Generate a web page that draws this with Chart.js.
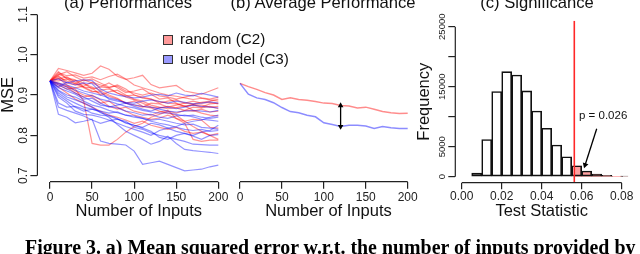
<!DOCTYPE html>
<html>
<head>
<meta charset="utf-8">
<script src="https://cdn.jsdelivr.net/npm/chart.js@4.4.1/dist/chart.umd.min.js"></script>
<style>
  html, body { margin: 0; padding: 0; background: #fff; }
  body { width: 640px; height: 254px; position: relative; overflow: hidden;
         font-family: 'Liberation Sans', Arial, Helvetica, sans-serif; color: #111; }
  canvas { position: absolute; left: 0; top: 0; }
  .ttl { position: absolute; top: -5px; width: 240px; text-align: center;
         font-size: 16.6px; line-height: 1; white-space: nowrap; }
  .key { position: absolute; left: 163px; width: 8px; height: 7.5px; border: 1px solid #333; }
  .keytxt { position: absolute; left: 180px; font-size: 15.2px; line-height: 1; white-space: nowrap; }
  .note { position: absolute; left: 579px; top: 110px; font-size: 11.5px; line-height: 1; white-space: nowrap; }
  .caption { position: absolute; left: 25px; top: 238px; white-space: nowrap;
             font: bold 19.9px/1 'Liberation Serif', 'Times New Roman', serif; color: #000; }
</style>
</head>
<body>
<canvas id="chartA" width="640" height="254"></canvas>
<canvas id="chartB" width="640" height="254"></canvas>
<canvas id="chartC" width="640" height="254"></canvas>

<div class="ttl" style="left:8px">(a) Performances</div>
<div class="ttl" style="left:203px">(b) Average Performance</div>
<div class="ttl" style="left:417px">(c) Significance</div>

<div class="key" style="top:35px; background:#ff9a9a"></div>
<div class="keytxt" style="top:31.3px">random (C2)</div>
<div class="key" style="top:54.5px; background:#9a9aff"></div>
<div class="keytxt" style="top:50.6px">user model (C3)</div>

<div class="note">p = 0.026</div>
<div class="caption">Figure 3. a) Mean squared error w.r.t. the number of inputs provided by</div>

<script>
// ---------- data ----------
const inputs = [0, 10, 20, 30, 40, 50, 60, 70, 80, 90, 100, 110, 120, 130, 140, 150, 160, 170, 180, 190, 200];
const inputTicks = [0, 50, 100, 150, 200];
const mseTicks = [0.7, 0.8, 0.9, 1.0, 1.1];

// (a) one line per run, random inputs (C2)
const randomRuns = [
  [0.935,0.966,0.961,0.955,0.949,0.954,0.972,0.964,0.947,0.939,0.943,0.949,0.926,0.918,0.921,0.924,0.910,0.906,0.902,0.910,0.918],
  [0.935,0.930,0.922,0.915,0.885,0.780,0.776,0.776,0.790,0.808,0.822,0.830,0.845,0.852,0.860,0.855,0.862,0.870,0.868,0.872,0.866],
  [0.935,0.955,0.948,0.950,0.942,0.945,0.938,0.946,0.952,0.940,0.925,0.918,0.912,0.905,0.900,0.897,0.893,0.889,0.892,0.888,0.885],
  [0.935,0.948,0.930,0.925,0.928,0.920,0.912,0.915,0.905,0.898,0.900,0.892,0.890,0.884,0.880,0.878,0.872,0.876,0.870,0.878,0.880],
  [0.935,0.940,0.945,0.932,0.920,0.910,0.905,0.897,0.890,0.880,0.885,0.872,0.868,0.860,0.855,0.850,0.835,0.822,0.810,0.800,0.790],
  [0.935,0.925,0.915,0.918,0.922,0.932,0.925,0.918,0.905,0.895,0.888,0.880,0.870,0.868,0.872,0.868,0.862,0.860,0.865,0.858,0.860],
  [0.935,0.950,0.958,0.945,0.935,0.940,0.930,0.920,0.922,0.910,0.905,0.900,0.905,0.898,0.895,0.890,0.895,0.900,0.893,0.890,0.895],
  [0.935,0.920,0.905,0.890,0.880,0.870,0.860,0.850,0.845,0.838,0.830,0.835,0.825,0.820,0.815,0.820,0.810,0.805,0.808,0.800,0.805],
  [0.935,0.945,0.935,0.928,0.938,0.930,0.920,0.918,0.925,0.915,0.900,0.895,0.890,0.880,0.885,0.888,0.880,0.878,0.882,0.885,0.890],
  [0.935,0.928,0.920,0.905,0.895,0.900,0.888,0.872,0.865,0.870,0.860,0.855,0.850,0.858,0.862,0.842,0.835,0.840,0.838,0.820,0.818],
  [0.935,0.958,0.940,0.936,0.930,0.915,0.920,0.930,0.918,0.906,0.910,0.915,0.902,0.890,0.893,0.880,0.872,0.876,0.875,0.870,0.872],
  [0.935,0.942,0.925,0.910,0.900,0.895,0.880,0.885,0.870,0.860,0.850,0.845,0.840,0.843,0.850,0.842,0.830,0.790,0.785,0.788,0.788],
  [0.935,0.935,0.940,0.928,0.918,0.908,0.910,0.900,0.892,0.880,0.875,0.870,0.880,0.878,0.870,0.875,0.880,0.885,0.880,0.882,0.878],
  [0.935,0.952,0.943,0.938,0.920,0.918,0.900,0.908,0.912,0.900,0.890,0.885,0.875,0.870,0.866,0.869,0.873,0.862,0.855,0.850,0.848]
];

// (a) one line per run, user model (C3)
const userModelRuns = [
  [0.935,0.852,0.845,0.831,0.835,0.840,0.786,0.780,0.778,0.776,0.761,0.728,0.732,0.736,0.728,0.720,0.712,0.714,0.716,0.722,0.726],
  [0.935,0.900,0.885,0.870,0.860,0.865,0.858,0.845,0.827,0.810,0.800,0.790,0.778,0.785,0.798,0.780,0.765,0.762,0.760,0.758,0.755],
  [0.935,0.880,0.870,0.872,0.865,0.855,0.850,0.848,0.840,0.835,0.820,0.815,0.806,0.800,0.795,0.790,0.785,0.778,0.777,0.776,0.776],
  [0.935,0.940,0.930,0.935,0.938,0.936,0.915,0.905,0.900,0.896,0.893,0.895,0.900,0.902,0.898,0.905,0.900,0.898,0.904,0.900,0.895],
  [0.935,0.905,0.890,0.880,0.870,0.865,0.860,0.855,0.858,0.850,0.845,0.842,0.838,0.840,0.835,0.830,0.826,0.828,0.820,0.818,0.815],
  [0.935,0.925,0.915,0.905,0.895,0.885,0.875,0.872,0.868,0.860,0.856,0.850,0.852,0.845,0.842,0.848,0.850,0.846,0.840,0.838,0.835],
  [0.935,0.910,0.895,0.888,0.880,0.870,0.856,0.850,0.842,0.830,0.825,0.818,0.810,0.795,0.790,0.800,0.805,0.798,0.790,0.800,0.802],
  [0.935,0.918,0.910,0.902,0.890,0.892,0.880,0.870,0.875,0.880,0.872,0.865,0.860,0.868,0.870,0.866,0.870,0.875,0.872,0.870,0.868],
  [0.935,0.895,0.880,0.860,0.852,0.850,0.845,0.838,0.830,0.822,0.815,0.808,0.800,0.812,0.818,0.810,0.805,0.800,0.808,0.812,0.825],
  [0.935,0.928,0.920,0.912,0.905,0.898,0.890,0.885,0.878,0.872,0.868,0.862,0.858,0.855,0.856,0.852,0.848,0.850,0.845,0.842,0.845],
  [0.935,0.920,0.932,0.925,0.930,0.928,0.908,0.890,0.885,0.882,0.880,0.885,0.888,0.884,0.880,0.885,0.882,0.878,0.880,0.883,0.880],
  [0.935,0.870,0.862,0.855,0.848,0.838,0.830,0.836,0.840,0.832,0.825,0.820,0.830,0.826,0.818,0.822,0.830,0.835,0.838,0.845,0.850],
  [0.935,0.912,0.900,0.895,0.885,0.875,0.870,0.862,0.856,0.850,0.848,0.842,0.835,0.830,0.826,0.820,0.815,0.812,0.815,0.810,0.812],
  [0.935,0.930,0.925,0.918,0.910,0.905,0.900,0.893,0.888,0.880,0.876,0.872,0.870,0.865,0.860,0.858,0.860,0.862,0.860,0.858,0.862]
];

// (b) averages
const randomAvg    = [0.929,0.921,0.914,0.906,0.900,0.889,0.893,0.889,0.887,0.884,0.880,0.879,0.874,0.873,0.868,0.870,0.865,0.859,0.856,0.854,0.855];
const userModelAvg = [0.929,0.902,0.893,0.889,0.881,0.869,0.859,0.856,0.850,0.846,0.831,0.827,0.822,0.825,0.825,0.823,0.817,0.822,0.819,0.817,0.817];
const gapAt = 120;

// (c) permutation test histogram
const binEdges  = [0.005,0.010,0.015,0.020,0.025,0.030,0.035,0.040,0.045,0.050,0.055,0.060,0.065,0.070,0.075,0.080,0.085];
const binCounts = [600, 6200, 14200, 17500, 16950, 14300, 10950, 8070, 5280, 3330, 1830, 950, 450, 230, 110, 40];
const observedStat = 0.0563;
const statTicks = [0, 0.02, 0.04, 0.06, 0.08];
const freqTicks = [0, 5000, 10000, 15000, 20000, 25000];
const freqLabelled = [0, 5000, 15000, 25000];

// ---------- styling ----------
const FONT = "'Liberation Sans', Arial, Helvetica, sans-serif";
const AXIS = '#222';
const RED_RUN = 'rgba(255,0,0,0.42)';
const BLUE_RUN = 'rgba(0,0,255,0.42)';
const RED_AVG = 'rgba(255,0,0,0.45)';
const BLUE_AVG = 'rgba(0,0,255,0.45)';
const PINK = 'rgba(255,110,110,0.65)';

Chart.defaults.font.family = FONT;
Chart.defaults.color = '#222';

const xy = (xs, ys) => ys.map((y, i) => ({ x: xs[i], y: y }));

// R draws the axis line only from the first to the last tick
const rAxisPlugin = {
  id: 'rAxis',
  afterDraw(chart) {
    const ctx = chart.ctx;
    ctx.save();
    ctx.strokeStyle = AXIS;
    ctx.lineWidth = 1.2;
    Object.values(chart.scales).forEach(s => {
      if (!s.options.display || !s.ticks.length) return;
      const a = s.getPixelForValue(s.ticks[0].value);
      const b = s.getPixelForValue(s.ticks[s.ticks.length - 1].value);
      ctx.beginPath();
      if (s.isHorizontal()) { ctx.moveTo(a, s.top); ctx.lineTo(b, s.top); }
      else { ctx.moveTo(s.right, a); ctx.lineTo(s.right, b); }
      ctx.stroke();
    });
    ctx.restore();
  }
};

function xAxis(min, max, ticks, fmt, title, height, tickLen, pad) {
  return {
    type: 'linear', min: min, max: max, offset: false, bounds: 'data',
    afterBuildTicks: s => { s.ticks = ticks.map(v => ({ value: v })); },
    afterFit: s => { s.height = height; },
    grid: { drawOnChartArea: false, offset: false, tickLength: tickLen, color: AXIS, lineWidth: 1.2 },
    border: { display: false },
    ticks: { autoSkip: false, maxRotation: 0, padding: pad, font: { size: 12 }, callback: fmt },
    title: { display: true, text: title, color: '#111', font: { size: 16.5, lineHeight: 1 }, padding: 0 }
  };
}

function yAxis(min, max, ticks, fmt, title, width, fontSize, pad, titlePad, tickLen) {
  return {
    type: 'linear', min: min, max: max, bounds: 'data',
    afterBuildTicks: s => { s.ticks = ticks.map(v => ({ value: v })); },
    afterFit: s => { s.width = width; },
    grid: { drawOnChartArea: false, tickLength: tickLen, color: AXIS, lineWidth: 1.2 },
    border: { display: false },
    ticks: { autoSkip: false, minRotation: 90, maxRotation: 90, crossAlign: 'center',
             padding: pad, font: { size: fontSize }, callback: fmt },
    title: { display: true, text: title, color: '#111', font: { size: 16.5, lineHeight: 1 },
             padding: { top: titlePad, bottom: 0 } }
  };
}

const baseOptions = {
  animation: false, responsive: false, events: [],
  elements: { point: { radius: 0 }, line: { tension: 0 } },
  plugins: { legend: { display: false }, tooltip: { enabled: false } }
};

// ---------- (a) Performances ----------
new Chart(document.getElementById('chartA'), {
  type: 'line',
  data: {
    datasets: [
      ...userModelRuns.map(r => ({ data: xy(inputs, r), borderColor: BLUE_RUN, borderWidth: 1.2 })),
      ...randomRuns.map(r => ({ data: xy(inputs, r), borderColor: RED_RUN, borderWidth: 1.2 }))
    ]
  },
  options: {
    ...baseOptions,
    layout: { padding: { left: 0, top: 8, right: 399.8, bottom: 34.45 } },
    scales: {
      x: xAxis(-15, 226, inputTicks, v => String(v), 'Number of Inputs', 37.85, 7, 1.6),
      y: yAxis(0.685, 1.116, mseTicks, v => v.toFixed(1), 'MSE', 37.4, 12, -1.24, 0.5, 7)
    }
  },
  plugins: [rAxisPlugin]
});

// ---------- (b) Average Performance ----------
const gi = inputs.indexOf(gapAt);
new Chart(document.getElementById('chartB'), {
  type: 'line',
  data: {
    datasets: [
      { data: [{ x: gapAt, y: randomAvg[gi] }, { x: gapAt, y: userModelAvg[gi] }],
        borderColor: '#000', borderWidth: 1.3, pointRadius: 3.2, pointStyle: 'triangle',
        pointRotation: [0, 180], pointBackgroundColor: '#000', pointBorderWidth: 0 },
      { data: xy(inputs, userModelAvg), borderColor: BLUE_AVG, borderWidth: 1.5 },
      { data: xy(inputs, randomAvg), borderColor: RED_AVG, borderWidth: 1.5 }
    ]
  },
  options: {
    ...baseOptions,
    layout: { padding: { left: 227.4, top: 8, right: 210.5, bottom: 34.45 } },
    scales: {
      x: xAxis(-15, 226, inputTicks, v => String(v), 'Number of Inputs', 37.85, 7, 1.6),
      y: { type: 'linear', min: 0.685, max: 1.116, display: false }
    }
  },
  plugins: [rAxisPlugin]
});

// ---------- (c) Significance ----------
const binCenters = binCounts.map((c, i) => (binEdges[i] + binEdges[i + 1]) / 2);
const tail = [];
binCounts.forEach((c, i) => {
  if (binEdges[i + 1] > observedStat) tail.push({ x: Math.max(binEdges[i], observedStat), y: c });
});
tail.push({ x: binEdges[binEdges.length - 1], y: 0 });

const FREQ_MIN = -1000, FREQ_MAX = 26000;
new Chart(document.getElementById('chartC'), {
  type: 'bar',
  data: {
    datasets: [
      { type: 'line', data: [{ x: observedStat, y: FREQ_MIN }, { x: observedStat, y: FREQ_MAX }],
        borderColor: 'rgb(255,40,40)', borderWidth: 1.6, pointRadius: 0 },
      { type: 'line', data: [{ x: 0.0675, y: 8000 }, { x: 0.0617, y: 1950 }],
        borderColor: '#000', borderWidth: 1.3, pointRadius: [0, 3.4], pointStyle: 'triangle',
        pointRotation: [0, 198], pointBackgroundColor: '#000', pointBorderWidth: 0 },
      { type: 'bar', data: binCenters.map((x, i) => ({ x: x, y: binCounts[i] })),
        backgroundColor: 'rgba(0,0,0,0)', borderColor: '#111', borderWidth: 1,
        borderSkipped: false, barPercentage: 1, categoryPercentage: 1 },
      { type: 'line', data: tail, stepped: true, fill: 'origin', backgroundColor: PINK,
        borderColor: 'rgba(0,0,0,0)', borderWidth: 0, pointRadius: 0 }
    ]
  },
  options: {
    ...baseOptions,
    layout: { padding: { left: 415.3, top: 20.7, right: 11.9, bottom: 34.45 } },
    scales: {
      x: xAxis(-0.0032, 0.0832, statTicks, v => v.toFixed(2), 'Test Statistic', 36.85, 6.5, 0.6),
      y: yAxis(FREQ_MIN, FREQ_MAX, freqTicks, v => freqLabelled.includes(v) ? String(v) : '',
               'Frequency', 40, 9.5, -7.6, 1.2, 7)
    }
  },
  plugins: [rAxisPlugin]
});
</script>
</body>
</html>
